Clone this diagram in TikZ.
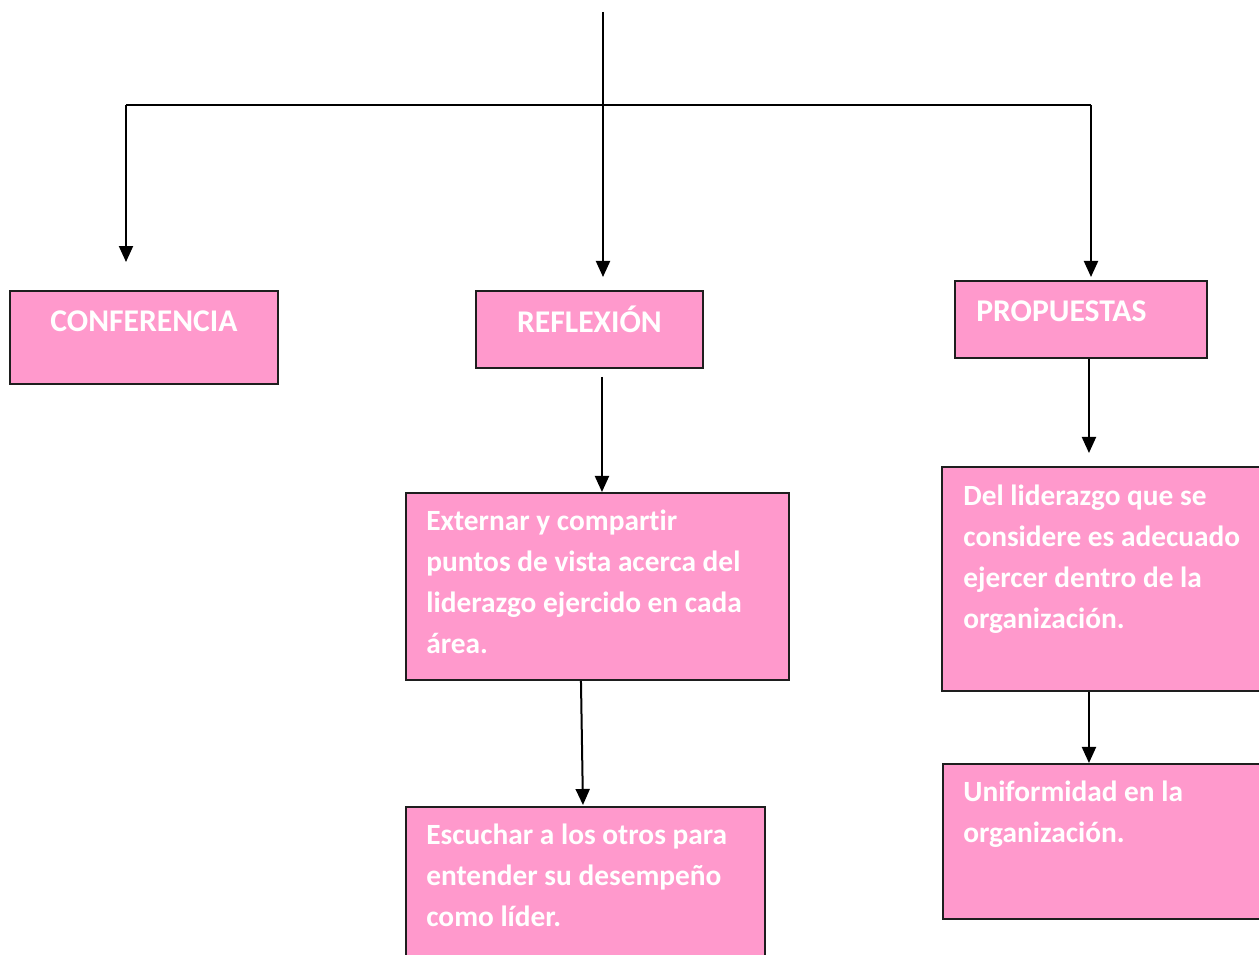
\documentclass[tikz,border=0pt]{standalone}
\usepackage{fontspec}
\setmainfont{Carlito}[Ligatures=CommonOff]
\usepackage{xcolor}
\usepackage{tikz}
\usetikzlibrary{positioning, arrows.meta, calc}
\definecolor{bxpink}{HTML}{FF99CC}
\definecolor{bxline}{HTML}{1E1E1E}
\tikzset{
  pinkbox/.style={rectangle, fill=bxpink, draw=bxline, line width=0.04cm,
    inner sep=0pt, anchor=north west},
  titletext/.style={text=white, inner sep=0pt,
    font=\fontsize{18pt}{23.3pt}\selectfont\bfseries},
  boxtext/.style={text=white, inner sep=0pt, align=flush left, text width=7.2cm,
    font=\fontsize{16.7pt}{23.2pt}\selectfont\bfseries},
  conn/.style={line width=0.04cm, draw=black},
  arr/.style={conn, -{Triangle[length=0.32cm, width=0.28cm]}}
}

\begin{document}
\begin{tikzpicture}[x=0.02cm, y=-0.02cm]
  \clip (0,0) rectangle (1259,955);
  \fill[white] (0,0) rectangle (1259,955);

  % boxes
  \node[pinkbox, minimum width=5.36cm, minimum height=1.86cm] (conf) at (9,290) {};
  \node[pinkbox, minimum width=4.54cm, minimum height=1.54cm] (refl) at (475,290) {};
  \node[pinkbox, minimum width=5.04cm, minimum height=1.54cm] (prop) at (954,280) {};
  \node[pinkbox, minimum width=7.66cm, minimum height=3.74cm] (ext) at (405,492) {};
  \node[pinkbox, minimum width=7.18cm, minimum height=3.4cm] (esc) at (405,806) {};
  \node[pinkbox, minimum width=6.6cm, minimum height=4.48cm] (del) at (941,466) {};
  \node[pinkbox, minimum width=6.6cm, minimum height=3.1cm] (uni) at (942,763) {};

  % texts
  \node[titletext, anchor=base] (conft) at ([yshift=-0.84cm]conf.north) {CONFERENCIA};
  \node[titletext, anchor=base] (reflt) at ([yshift=-0.86cm]refl.north) {REFLEXIÓN};
  \node[titletext, anchor=base west] (propt) at ([xshift=0.44cm, yshift=-0.84cm]prop.north west) {PROPUESTAS};
  \node[boxtext, anchor=base west] (extt) at ([xshift=0.42cm, yshift=-0.78cm]ext.north west)
    {Externar y compartir\\ puntos de vista acerca del\\ liderazgo ejercido en cada\\ área.};
  \node[boxtext, anchor=base west] (esct) at ([xshift=0.42cm, yshift=-0.78cm]esc.north west)
    {Escuchar a los otros para\\ entender su desempeño\\ como líder.};
  \node[boxtext, anchor=base west] (delt) at ([xshift=0.44cm, yshift=-0.8cm]del.north west)
    {Del liderazgo que se\\ considere es adecuado\\ ejercer dentro de la\\ organización.};
  \node[boxtext, anchor=base west] (unit) at ([xshift=0.42cm, yshift=-0.78cm]uni.north west)
    {Uniformidad en la\\ organización.};

  % connectors
  \coordinate (top) at (603,12);
  \coordinate (hl) at (126,105);
  \coordinate (hr) at (1091,105);
  \draw[conn] (hl) -- (hr);
  \draw[arr, shorten >=0.26cm] (top) -- (top |- refl.north);
  \draw[arr, shorten >=0.56cm] (hl) -- (hl |- conf.north);
  \draw[arr, shorten >=0.06cm] (hr) -- (hr |- prop.north);
  \draw[arr, shorten <=0.16cm] ([xshift=0.25cm]refl.south) -- ([xshift=0.25cm]refl.south |- ext.north);
  \draw[arr] ([xshift=-0.33cm]ext.south) -- ([xshift=-0.05cm, yshift=0.02cm]esc.north);
  \draw[arr, shorten >=0.26cm] ([xshift=0.16cm]prop.south) -- ([xshift=0.16cm]prop.south |- del.north);
  \draw[arr] ([xshift=0.16cm]prop.south |- del.south) -- ([xshift=0.16cm]prop.south |- uni.north);
\end{tikzpicture}
\end{document}
